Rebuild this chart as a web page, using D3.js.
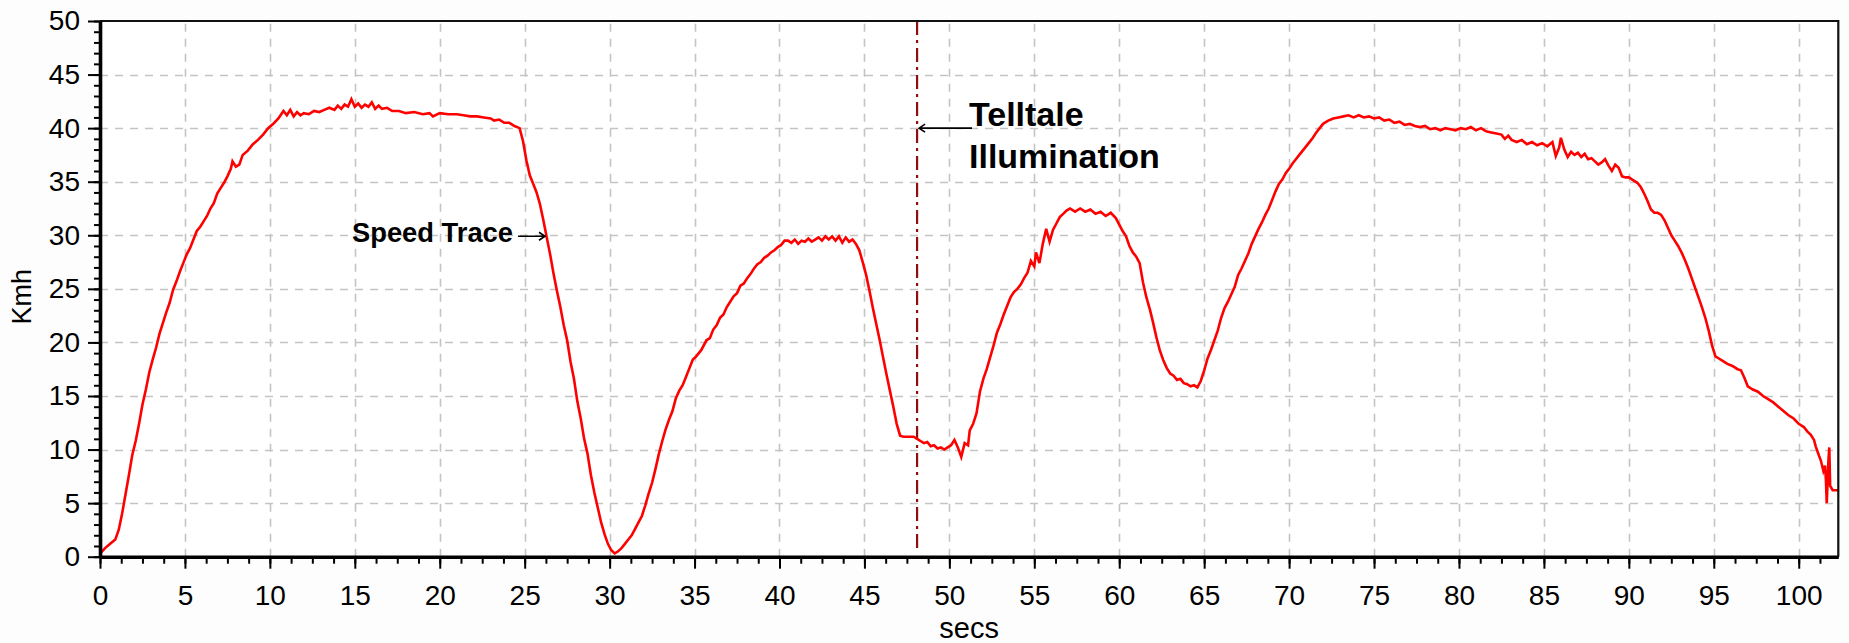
<!DOCTYPE html>
<html>
<head>
<meta charset="utf-8">
<script src="https://cdn.jsdelivr.net/npm/d3@7/dist/d3.min.js"></script>
<style>
  html, body { margin: 0; padding: 0; background: #fdfdfd; }
  svg { display: block; }
  text { font-family: "Liberation Sans", Arial, sans-serif; fill: #000; }
</style>
</head>
<body>
<svg id="chart" width="1849" height="643"></svg>
<script>
// Vehicle speed trace (km/h) against time (s)
const timeSecs = [
  0,0.3,0.6,0.9,1.1,1.3,1.5,1.7,1.9,2.1,2.3,2.5,2.7,2.9,3.1,3.3,3.5,3.7,3.9,4.1,
  4.3,4.5,4.7,4.9,5.1,5.3,5.5,5.7,5.9,6.1,6.3,6.5,6.7,6.9,7.1,7.3,7.5,7.7,7.8,8.0,
  8.2,8.4,8.7,9.0,9.3,9.6,9.9,10.2,10.5,10.8,
  11.0,11.2,11.4,11.6,11.8,12.0,12.3,12.6,12.9,13.2,13.5,13.8,14.0,14.2,14.4,14.6,14.8,15.0,15.2,15.4,
  15.6,15.8,16.0,16.2,16.4,16.6,16.9,17.2,17.6,18.0,18.5,19.0,19.4,19.6,20.0,20.5,21.0,21.4,21.8,22.2,
  22.6,23.0,23.2,23.5,23.8,24.1,24.4,24.7,
  24.9,25.1,25.3,25.5,25.7,25.9,26.1,26.3,26.5,26.7,26.9,27.1,27.3,27.5,27.7,27.9,28.1,28.3,28.5,28.7,
  28.9,29.1,29.3,29.5,29.7,29.9,30.1,30.3,30.5,30.7,30.9,31.1,31.3,31.5,31.7,31.9,32.1,32.3,32.5,32.7,
  32.9,33.1,33.3,33.5,33.7,33.9,34.1,34.3,34.5,34.7,34.9,35.1,35.4,35.7,35.9,36.1,36.3,36.5,36.7,36.9,
  37.1,37.3,37.5,37.7,37.9,38.1,38.3,38.5,38.7,38.9,39.1,39.3,39.5,39.7,39.9,40.1,40.3,40.5,40.7,40.9,
  41.1,41.3,41.5,41.7,41.9,42.1,42.3,42.5,42.7,42.9,43.1,43.3,43.5,43.7,43.9,44.1,44.3,44.5,44.7,44.9,
  45.1,45.3,45.5,45.7,45.9,46.1,46.3,46.5,46.7,46.9,47.1,47.3,47.6,47.9,48.1,48.3,48.5,48.7,48.9,49.1,
  49.3,49.5,49.7,49.9,50.1,50.3,50.5,50.7,50.9,51.1,51.2,51.4,51.6,51.8,52.0,52.2,52.4,52.6,52.8,53.0,
  53.2,53.4,53.6,53.8,54.0,54.2,54.4,54.6,54.8,55.0,55.1,55.3,55.5,55.7,55.9,56.1,56.3,56.5,56.7,56.9,
  57.1,57.4,57.7,58.0,58.3,58.6,58.9,59.2,59.5,59.8,60.0,60.2,60.4,60.6,60.8,61.0,61.2,61.4,61.6,61.8,
  62.0,62.2,62.4,62.6,62.8,63.0,63.2,63.4,63.6,63.8,64.0,64.2,64.4,64.6,64.8,65.0,65.2,65.4,65.6,65.8,
  66.0,66.2,66.4,66.6,66.8,67.0,67.2,67.4,67.6,67.8,68.0,68.2,68.4,68.6,68.8,69.0,69.2,69.4,69.6,69.8,
  70.0,70.2,70.4,70.6,70.8,71.0,71.2,71.4,71.6,71.8,72.0,72.3,72.6,72.9,73.2,73.5,73.8,74.1,74.4,74.7,
  75.0,75.3,75.6,75.9,76.2,76.5,76.8,77.1,77.4,77.7,78.0,78.3,78.6,78.9,79.2,79.5,79.8,80.1,80.4,80.7,
  81.0,81.3,81.6,81.9,82.2,82.5,82.7,82.9,83.1,83.4,83.7,84.0,84.3,84.6,84.9,85.2,85.5,85.7,85.9,86.0,
  86.2,86.4,86.6,86.8,87.0,87.2,87.4,87.6,87.8,88.0,88.2,88.4,88.6,88.8,89.0,89.2,89.4,89.6,89.8,90.0,
  90.2,90.5,90.7,90.9,91.1,91.3,91.5,91.7,91.9,92.1,92.3,92.5,92.7,92.9,93.1,93.3,93.5,93.7,93.9,94.1,
  94.3,94.5,94.7,94.9,95.1,95.3,95.5,95.8,96.1,96.4,96.6,96.8,97.0,97.3,97.6,97.9,98.2,98.5,98.8,99.1,
  99.4,99.7,100.0,100.3,100.5,100.7,100.9,101.0,101.2,101.3,101.45,101.55,101.6,101.65,101.7,101.75,101.8,101.85,102.0,102.33
];
const speedKmh = [
  0.3,0.8,1.2,1.6,2.5,4.0,5.8,7.6,9.5,10.8,12.4,14.2,15.6,17.2,18.4,19.5,20.8,21.8,22.8,23.7,
  24.9,25.7,26.6,27.4,28.2,28.8,29.6,30.4,30.8,31.3,31.8,32.5,33.0,33.9,34.4,34.9,35.5,36.2,36.9,36.4,
  36.6,37.5,37.9,38.5,38.9,39.4,40.0,40.4,40.9,41.6,
  41.2,41.7,41.1,41.5,41.2,41.4,41.3,41.6,41.5,41.7,41.9,41.7,42.1,41.8,42.2,42.0,42.7,42.0,42.3,41.9,
  42.2,42.0,42.4,41.8,42.1,41.8,41.9,41.6,41.6,41.4,41.5,41.3,41.4,41.1,41.4,41.3,41.3,41.2,41.1,41.1,
  41.0,40.9,40.7,40.8,40.5,40.5,40.2,40.0,
  38.8,37.0,35.6,34.8,34.0,32.9,31.4,29.8,28.2,26.4,24.8,23.3,21.6,20.2,18.2,16.6,14.5,12.9,11.0,9.6,
  7.6,6.0,4.6,3.2,2.1,1.2,0.6,0.3,0.5,0.8,1.2,1.6,2.0,2.6,3.2,3.8,4.8,5.9,6.9,8.2,
  9.6,10.8,11.9,12.8,13.6,14.8,15.5,16.0,16.8,17.6,18.4,18.7,19.3,20.2,20.4,21.2,21.6,22.3,22.6,23.3,
  23.8,24.3,24.6,25.3,25.5,26.0,26.4,26.9,27.3,27.5,27.9,28.1,28.4,28.6,28.9,29.1,29.5,29.5,29.3,29.6,
  29.2,29.5,29.4,29.7,29.4,29.6,29.8,29.5,29.9,29.6,29.9,29.5,29.9,29.3,29.8,29.4,29.6,29.2,28.6,27.5,
  26.3,24.8,23.2,21.7,20.2,18.6,17.0,15.5,14.0,12.4,11.3,11.2,11.2,11.2,11.0,10.8,10.6,10.7,10.3,10.4,
  10.1,10.2,10.0,10.2,10.4,10.9,10.2,9.3,10.6,10.4,11.8,12.4,13.4,15.4,16.6,17.5,18.6,19.7,20.9,21.7,
  22.6,23.4,24.2,24.7,25.0,25.4,26.0,26.5,27.6,27.1,28.4,27.4,29.2,30.6,29.4,30.5,31.1,31.7,32.0,32.3,
  32.5,32.2,32.5,32.2,32.4,32.0,32.2,31.8,32.1,31.6,31.0,30.4,29.9,29.0,28.4,28.0,27.4,25.6,24.2,23.1,
  21.8,20.4,19.2,18.3,17.6,17.1,16.9,16.5,16.6,16.2,16.1,15.9,16.0,15.8,16.4,17.4,18.5,19.3,20.2,21.1,
  22.3,23.2,23.8,24.5,25.2,26.3,26.9,27.6,28.3,29.2,29.9,30.6,31.2,31.9,32.5,33.3,34.1,34.8,35.2,35.8,
  36.2,36.7,37.1,37.5,37.9,38.3,38.7,39.1,39.6,40.0,40.4,40.7,40.9,41.0,41.1,41.2,41.0,41.2,41.0,41.1,
  40.9,41.0,40.7,40.8,40.5,40.6,40.3,40.4,40.2,40.1,40.2,39.9,40.0,39.8,40.0,39.9,39.8,40.0,39.9,40.1,
  39.8,40.0,39.7,39.6,39.5,39.4,39.0,39.3,38.9,38.7,38.9,38.5,38.7,38.4,38.6,38.3,38.7,37.4,38.2,39.1,
  38.0,37.3,37.8,37.5,37.7,37.3,37.6,37.1,37.2,36.9,36.6,36.8,37.1,36.5,36.0,36.6,36.3,35.5,35.4,35.4,
  35.2,34.9,34.5,33.9,33.2,32.4,32.1,32.1,31.9,31.4,30.7,30.0,29.5,29.0,28.4,27.7,26.9,26.0,25.1,24.2,
  23.3,22.3,21.1,19.7,18.7,18.5,18.3,18.0,17.8,17.5,17.4,16.7,15.9,15.6,15.4,15.0,14.7,14.4,14.0,13.6,
  13.2,12.9,12.4,12.1,11.7,11.4,10.9,10.3,9.4,9.0,8.0,8.5,7.2,5.0,7.0,9.0,10.2,6.6,6.2,6.2
];

// Axis ticks
const xMajorTicks = d3.range(0, 101, 5);
const xMinorTicks = d3.range(0, 102.3, 1.25);
const yMajorTicks = d3.range(0, 51, 5);
const yMinorTicks = d3.range(0, 51, 1);

// Annotations
const telltaleTime = 48.1;
const telltaleLines = ["Telltale", "Illumination"];
const traceLabel = "Speed Trace";
const xTitle = "secs";
const yTitle = "Kmh";

const svg = d3.select("#chart");
const plotLeft = 100, plotRight = 1838.3, plotTop = 21, plotBottom = 556.7;

const x = d3.scaleLinear().domain([0, 102.33]).range([plotLeft, plotRight]);
const y = d3.scaleLinear().domain([0, 50]).range([plotBottom, plotTop]);

// plot background
svg.append("rect")
  .attr("x", plotLeft).attr("y", plotTop)
  .attr("width", plotRight - plotLeft).attr("height", plotBottom - plotTop)
  .attr("fill", "#ffffff");

// dashed grid
const grid = svg.append("g")
  .attr("stroke", "#c4c4c4")
  .attr("stroke-width", 1.6)
  .attr("stroke-dasharray", "8,7");
grid.selectAll(".vg").data(xMajorTicks.filter(d => d > 0))
  .join("line")
  .attr("x1", d => Math.round(x(d)) + 0.5).attr("x2", d => Math.round(x(d)) + 0.5)
  .attr("y1", plotBottom).attr("y2", plotTop);
grid.selectAll(".hg").data(yMajorTicks.filter(d => d > 0 && d < 50))
  .join("line")
  .attr("y1", d => Math.round(y(d)) + 0.5).attr("y2", d => Math.round(y(d)) + 0.5)
  .attr("x1", plotLeft).attr("x2", plotRight);

// telltale marker line
svg.append("line")
  .attr("x1", x(telltaleTime)).attr("x2", x(telltaleTime))
  .attr("y1", plotTop).attr("y2", plotBottom - 8)
  .attr("stroke", "#8b0f0f")
  .attr("stroke-width", 2.2)
  .attr("stroke-dasharray", "14,5,3,5");

// speed trace
const data = timeSecs.map((t, i) => [t, speedKmh[i]]);
svg.append("path")
  .datum(data)
  .attr("fill", "none")
  .attr("stroke", "#ff0000")
  .attr("stroke-width", 2.6)
  .attr("stroke-linejoin", "miter")
  .attr("d", d3.line().x(d => x(d[0])).y(d => y(d[1])));

// frame: thin top/right
svg.append("path")
  .attr("d", `M${plotLeft},${plotTop}H${plotRight}V${plotBottom}`)
  .attr("fill", "none")
  .attr("stroke", "#111")
  .attr("stroke-width", 2.2);

// minor ticks
svg.append("g")
  .attr("transform", `translate(0,${plotBottom})`)
  .call(d3.axisBottom(x).tickValues(xMinorTicks).tickSize(7).tickSizeOuter(0).tickFormat(""))
  .call(g => g.select(".domain").remove())
  .call(g => g.selectAll("line").attr("stroke", "#000").attr("stroke-width", 2));
svg.append("g")
  .attr("transform", `translate(${plotLeft},0)`)
  .call(d3.axisLeft(y).tickValues(yMinorTicks).tickSize(6).tickSizeOuter(0).tickFormat(""))
  .call(g => g.select(".domain").remove())
  .call(g => g.selectAll("line").attr("stroke", "#000").attr("stroke-width", 2));

// major ticks + labels
svg.append("g")
  .attr("transform", `translate(0,${plotBottom})`)
  .call(d3.axisBottom(x).tickValues(xMajorTicks).tickSize(12).tickSizeOuter(0).tickPadding(16))
  .call(g => g.select(".domain").attr("stroke", "#000").attr("stroke-width", 3.6))
  .call(g => g.selectAll("line").attr("stroke", "#000").attr("stroke-width", 2))
  .call(g => g.selectAll("text").attr("font-size", 28).attr("font-family", "Liberation Sans, Arial, sans-serif").attr("fill", "#111"));
svg.append("g")
  .attr("transform", `translate(${plotLeft},0)`)
  .call(d3.axisLeft(y).tickValues(yMajorTicks).tickSize(12).tickSizeOuter(0).tickPadding(8))
  .call(g => g.select(".domain").attr("stroke", "#000").attr("stroke-width", 3.6))
  .call(g => g.selectAll("line").attr("stroke", "#000").attr("stroke-width", 2))
  .call(g => g.selectAll("text").attr("font-size", 28).attr("font-family", "Liberation Sans, Arial, sans-serif").attr("fill", "#111"));

// axis titles
svg.append("text")
  .attr("x", (plotLeft + plotRight) / 2).attr("y", 638)
  .attr("text-anchor", "middle")
  .attr("font-size", 29)
  .attr("fill", "#111")
  .text(xTitle);
svg.append("text")
  .attr("transform", `translate(31,${(plotTop + plotBottom) / 2 + 8}) rotate(-90)`)
  .attr("text-anchor", "middle")
  .attr("font-size", 27)
  .attr("fill", "#111")
  .text(yTitle);

// "Speed Trace" annotation with arrow
const traceArrowY = y(30) + 1;
svg.append("text")
  .attr("x", 352).attr("y", 242)
  .attr("font-size", 27).attr("font-weight", "bold")
  .attr("textLength", 161).attr("lengthAdjust", "spacingAndGlyphs")
  .text(traceLabel);
svg.append("path")
  .attr("d", `M518,${traceArrowY}H545M539,${traceArrowY - 4}L545,${traceArrowY}L539,${traceArrowY + 4}`)
  .attr("fill", "none").attr("stroke", "#000").attr("stroke-width", 1.6);

// "Telltale Illumination" annotation with arrow
const tellArrowY = y(40);
const tx = x(telltaleTime);
svg.append("path")
  .attr("d", `M${tx + 2},${tellArrowY}H972M${tx + 8},${tellArrowY - 4}L${tx + 2},${tellArrowY}L${tx + 8},${tellArrowY + 4}`)
  .attr("fill", "none").attr("stroke", "#000").attr("stroke-width", 1.6);
svg.append("text")
  .attr("x", 969).attr("y", 126)
  .attr("font-size", 34).attr("font-weight", "bold")
  .text(telltaleLines[0]);
svg.append("text")
  .attr("x", 969).attr("y", 168)
  .attr("font-size", 34).attr("font-weight", "bold")
  .text(telltaleLines[1]);
</script>
</body>
</html>
